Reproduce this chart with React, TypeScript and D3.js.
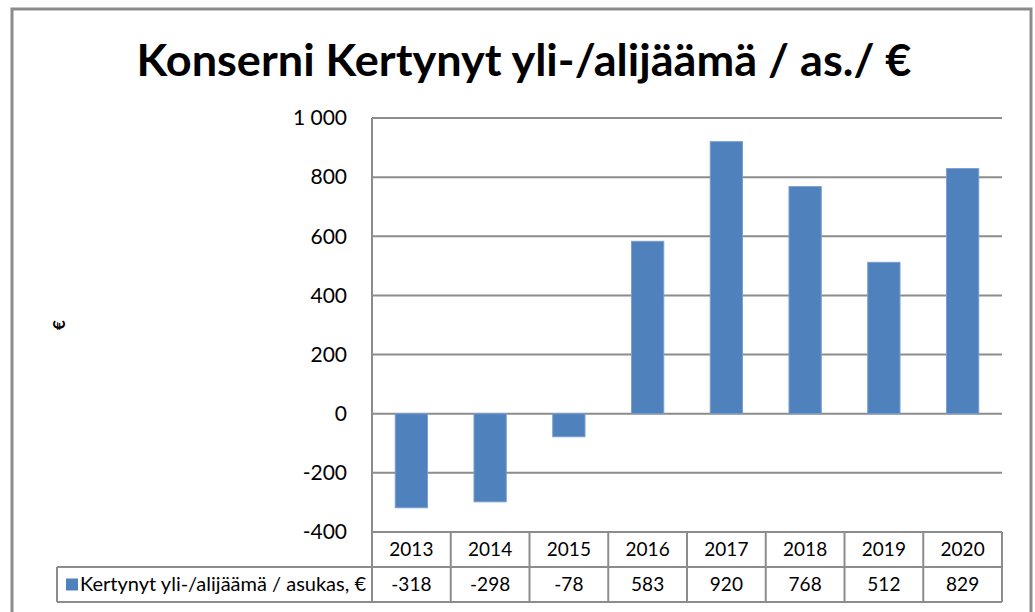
import React from 'react';
import * as d3 from 'd3';

const years = ['2013', '2014', '2015', '2016', '2017', '2018', '2019', '2020'];
const values = [-318, -298, -78, 583, 920, 768, 512, 829];
const yTicks = [-400, -200, 0, 200, 400, 600, 800, 1000];
const seriesName = 'Kertynyt yli-/alijäämä / asukas, €';
const title = 'Konserni Kertynyt yli-/alijäämä / as./ €';

const W = 1035;
const H = 612;
const left = 372;
const right = 1002;
const top = 118;
const bottom = 532;
const rowH = 35;
const tableLeft = 57;

const font = 'Lato, "Open Sans", sans-serif';
const grid = '#8c8c8c';
const barColor = '#4f81bd';

const fmt = (v: number) => {
  const s = Math.abs(v).toString().replace(/\B(?=(\d{3})+(?!\d))/g, ' ');
  return v < 0 ? '-' + s : s;
};

export default function App() {
  const x = d3.scaleBand<string>()
    .domain(years)
    .range([left, right])
    .paddingInner(0.59)
    .paddingOuter(0.295);

  const y = d3.scaleLinear().domain([-400, 1000]).range([bottom, top]);

  const step = x.step();
  const colX = (i: number) => left + i * step;

  return (
    <svg width={W} height={H} style={{ position: 'absolute', left: 0, top: 0, background: '#fff' }}>
      <rect x={12} y={9} width={1019} height={700} fill="#fff" stroke={grid} strokeWidth={3} />

      <text x={524} y={76} textAnchor="middle" fontFamily={font} fontWeight="bold" fontSize={43}
        textLength={775} lengthAdjust="spacingAndGlyphs" fill="#000">{title}</text>

      <text transform="translate(65,325) rotate(-90)" textAnchor="middle" fontFamily={font}
        fontWeight="bold" fontSize={17} fill="#000">€</text>

      {yTicks.map(t => (
        <g key={t}>
          <line x1={left} x2={right} y1={y(t)} y2={y(t)} stroke={grid} strokeWidth={2} />
          <text x={347} y={y(t)} dy="0.35em" textAnchor="end" fontFamily={font} fontSize={21} fill="#000">{fmt(t)}</text>
        </g>
      ))}

      {values.map((v, i) => (
        <rect key={years[i]} x={x(years[i])} width={x.bandwidth()}
          y={y(Math.max(0, v))} height={Math.abs(y(v) - y(0))}
          fill={barColor} stroke="#7a9fd0" strokeWidth={1} />
      ))}

      <line x1={left} x2={left} y1={top} y2={bottom + 2 * rowH} stroke={grid} strokeWidth={2} />

      {/* data table */}
      <line x1={tableLeft} x2={right} y1={bottom + rowH} y2={bottom + rowH} stroke={grid} strokeWidth={2} />
      <line x1={tableLeft} x2={right} y1={bottom + 2 * rowH} y2={bottom + 2 * rowH} stroke={grid} strokeWidth={2} />
      <line x1={tableLeft} x2={tableLeft} y1={bottom + rowH} y2={bottom + 2 * rowH} stroke={grid} strokeWidth={2} />
      {years.map((yr, i) => (
        <line key={'s' + yr} x1={colX(i + 1)} x2={colX(i + 1)} y1={bottom} y2={bottom + 2 * rowH}
          stroke={grid} strokeWidth={2} />
      ))}
      {years.map((yr, i) => (
        <g key={'c' + yr}>
          <text x={colX(i) + step / 2} y={bottom + rowH / 2} dy="0.35em" textAnchor="middle"
            fontFamily={font} fontSize={19} fill="#000">{yr}</text>
          <text x={colX(i) + step / 2} y={bottom + rowH * 1.5} dy="0.35em" textAnchor="middle"
            fontFamily={font} fontSize={19} fill="#000">{values[i]}</text>
        </g>
      ))}
      <rect x={66} y={bottom + rowH * 1.5 - 6} width={12} height={12} fill={barColor} />
      <text x={80} y={bottom + rowH * 1.5} dy="0.35em" fontFamily={font} fontSize={19} fill="#000"
        textLength={286} lengthAdjust="spacingAndGlyphs">{seriesName}</text>
    </svg>
  );
}
